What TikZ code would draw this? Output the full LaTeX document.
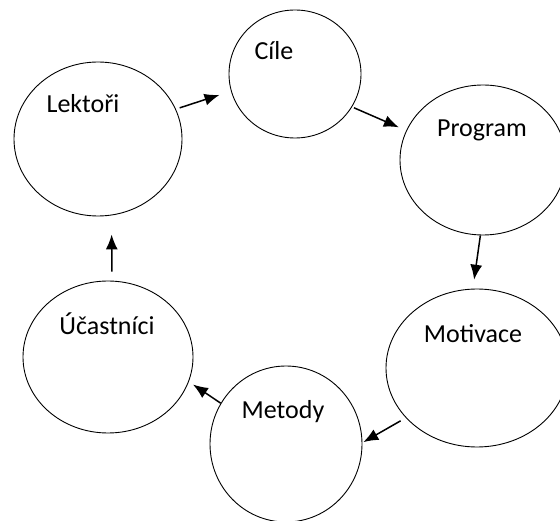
\documentclass[tikz,border=0pt]{standalone}
\usepackage{fontspec}
\setmainfont{Carlito}
\usetikzlibrary{shapes,arrows.meta,positioning}
\tikzset{>={Latex[length=15pt,width=12pt]}}
\tikzset{kruh/.style={ellipse,draw,line width=0.9pt,inner sep=0pt},
 popis/.style={font=\fontsize{26}{31}\selectfont,anchor=base,inner sep=0pt},
 sipka/.style={->,line width=1.5pt}}

\begin{document}
\begin{tikzpicture}[x=1pt,y=-1pt]
\useasboundingbox (0,0) rectangle (560,521);
\node [kruh,minimum width=168pt,minimum height=154pt] (lek) at (98,139) {};
\node [kruh,minimum width=132pt,minimum height=128pt] (cil) at (295,74) {};
\node [kruh,minimum width=166pt,minimum height=150pt] (prog) at (483,160) {};
\node [kruh,minimum width=182pt,minimum height=158pt] (mot) at (477,368) {};
\node [kruh,minimum width=152pt,minimum height=156pt] (met) at (286,444) {};
\node [kruh,minimum width=170pt,minimum height=152pt] (uc) at (108,357) {};
\node [popis] (lektext) at (83,113) {Lektoři};
\node [popis] (ciltext) at (274,60) {Cíle};
\node [popis] (progtext) at (482,137) {Program};
\node [popis] (mottext) at (473,343) {Motivace};
\node [popis] (mettext) at (283,419) {Metody};
\node [popis] (uctext) at (107,335) {Účastníci};
\draw [sipka,shorten <=4pt,shorten >=12pt] (lek.21)--(cil.195);
\draw [sipka,shorten <=2pt,shorten >=8pt] (cil.330)--(prog.159);
\draw [sipka,shorten >=9pt] (prog.268)--(mot.93);
\draw [sipka,shorten <=6pt,shorten >=1pt] (mot.215)--(met.1);
\draw [sipka,shorten >=5pt] (met.148)--(uc.343);
\draw [sipka,shorten <=9pt,shorten >=19pt] (uc.87)--(lek.280);
\end{tikzpicture}
\end{document}
